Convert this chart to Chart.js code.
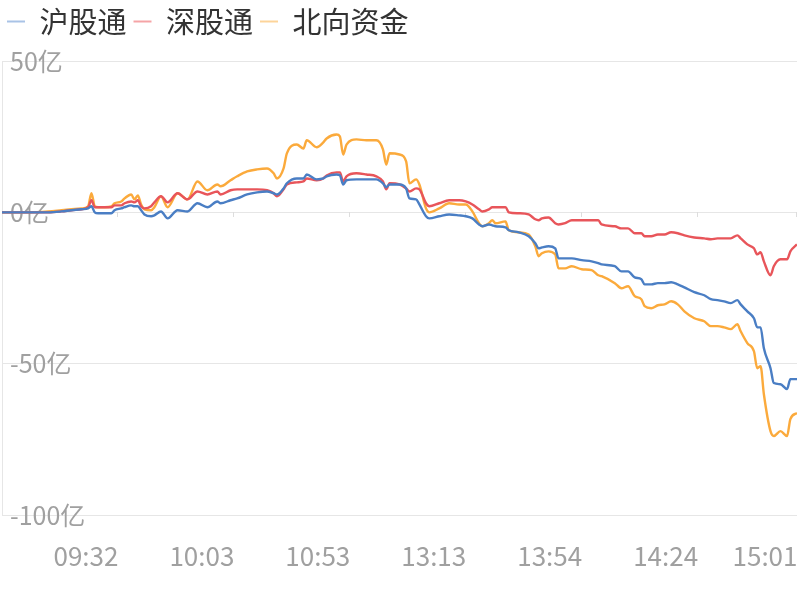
<!DOCTYPE html>
<html>
<head>
<meta charset="utf-8">
<script src="https://cdn.jsdelivr.net/npm/chart.js@4/dist/chart.umd.min.js"></script>
<style>
  html, body { margin: 0; padding: 0; background: #fff; }
  #wrap { width: 800px; height: 600px; }
</style>
</head>
<body>
<div id="wrap"><canvas id="flow-chart"></canvas></div>
<script>
// Trading minutes since 09:30 (lunch break removed, 0..240)
const minutes = [
  0, 8, 14, 18, 21, 24, 26, 27, 28, 29,
  31, 33, 34, 36, 37, 39, 40, 41, 42, 43,
  45, 46, 48, 50, 53, 56, 59, 62, 65, 66,
  69, 71, 74, 77, 80, 82, 83, 85, 86, 89,
  91, 92, 95, 97, 98, 101, 102, 103, 104, 107,
  110, 113, 115, 116, 117, 120, 122, 123, 125, 126,
  128, 129, 132, 135, 138, 140, 142, 144, 145, 147,
  148, 149, 152, 153, 156, 159, 161, 162, 163, 165,
  167, 168, 170, 172, 175, 178, 180, 181, 185, 187,
  189, 191, 193, 194, 196, 198, 200, 202, 204, 206,
  209, 212, 214, 216, 218, 220, 222, 223, 225, 227,
  228, 229, 230, 232, 233, 235, 237, 238, 240
];

// Net inflow, 亿
const shValues = [
  0, 0, 0, 0.3, 0.7, 1.0, 1.3, 2.0, 0, -0.3,
  -0.3, -0.3, 0.7, 1.3, 1.7, 2.3, 2.0, 2.0, 0.7, -0.7,
  -1.3, -1.0, 0.3, -2.0, 0.7, 0.3, 3.0, 1.7, 3.6, 3.0,
  4.0, 4.6, 5.9, 6.6, 6.9, 6.3, 5.9, 7.9, 9.6, 11.2,
  11.2, 12.5, 10.9, 11.2, 11.9, 12.5, 12.2, 9.2, 10.6, 10.9,
  10.9, 10.9, 9.6, 8.3, 9.2, 9.2, 7.9, 4.6, 4.3, 2.6,
  -1.3, -2.0, -1.3, -0.7, -1.0, -1.3, -2.0, -4.0, -4.6, -4.0,
  -4.3, -4.6, -5.0, -5.9, -6.6, -7.9, -10.2, -11.9, -11.6, -11.2,
  -11.9, -15.2, -15.2, -15.2, -15.8, -16.2, -16.8, -17.2, -17.8, -19.5,
  -19.5, -21.5, -22.1, -23.8, -23.8, -23.4, -23.4, -23.1, -23.8, -24.8,
  -26.4, -27.4, -28.7, -29.0, -29.4, -30.0, -29.0, -30.4, -32.7, -35.0,
  -38.0, -38.0, -44.9, -51.5, -56.4, -56.8, -58.4, -55.1, -55.1
];

const szValues = [
  0, 0, 0, 0.3, 0.7, 1.0, 1.7, 4.0, 1.7, 1.7,
  1.7, 1.7, 2.3, 2.3, 3.0, 3.6, 3.3, 4.0, 2.0, 1.3,
  2.0, 3.3, 5.3, 3.3, 6.3, 4.3, 6.9, 5.9, 6.9, 5.9,
  7.3, 7.6, 7.6, 7.6, 7.3, 6.3, 5.3, 7.6, 9.2, 9.9,
  10.2, 11.2, 10.6, 11.2, 12.2, 13.2, 13.2, 10.2, 11.9, 12.9,
  12.5, 11.9, 10.2, 7.6, 9.6, 9.2, 7.9, 6.9, 7.9, 7.6,
  3.0, 2.0, 3.0, 4.0, 4.0, 3.6, 2.6, 1.0, 0.3, 1.0,
  1.7, 1.7, 1.7, 0, -0.3, -0.7, -2.3, -2.6, -2.0, -1.7,
  -3.6, -4.0, -3.6, -2.6, -2.6, -2.6, -2.6, -4.0, -4.6, -5.3,
  -5.3, -6.9, -6.9, -7.9, -7.9, -7.3, -7.3, -6.6, -6.9, -7.6,
  -8.3, -8.6, -8.9, -8.6, -8.6, -8.6, -7.6, -8.6, -10.6, -11.9,
  -13.9, -13.2, -16.2, -20.8, -17.8, -15.5, -15.5, -12.9, -10.6
];

const northValues = [
  0, 0, 0.3, 0.7, 1.0, 1.3, 2.0, 6.3, 2.0, 1.7,
  1.7, 2.0, 3.0, 3.6, 4.6, 5.9, 4.3, 5.6, 2.6, 1.0,
  0.7, 1.7, 5.3, 1.7, 6.3, 4.3, 10.2, 7.3, 9.2, 8.6,
  10.6, 11.9, 13.5, 14.2, 14.5, 12.9, 11.2, 14.5, 19.5, 22.4,
  21.1, 23.8, 21.5, 23.1, 24.4, 25.7, 25.1, 19.1, 22.4, 24.1,
  23.8, 23.8, 20.8, 15.8, 19.5, 19.1, 16.8, 9.6, 10.9, 9.2,
  1.3, 0, 1.3, 3.0, 2.6, 2.6, 0.3, -3.6, -4.6, -3.6,
  -2.6, -3.6, -3.0, -5.9, -6.6, -7.3, -11.2, -14.5, -13.5, -12.9,
  -13.9, -18.5, -18.5, -17.8, -18.8, -19.1, -20.8, -21.1, -23.4, -25.1,
  -24.4, -27.7, -28.7, -31.0, -31.7, -30.7, -30.4, -29.4, -30.4, -32.7,
  -35.0, -36.0, -37.6, -37.6, -38.0, -38.6, -37.0, -39.3, -43.2, -45.9,
  -51.5, -50.8, -60.1, -72.3, -73.9, -72.3, -73.9, -68.3, -66.3
];

const seriesNames = ['沪股通', '深股通', '北向资金'];

// x axis labels and where they sit
const tickMinutes = [35, 70, 105, 140, 175, 210, 240];
const tickLabels = ['09:32', '10:03', '10:53', '13:13', '13:54', '14:24', '15:01'];

const lineColors = ['#4a7ec4', '#e8555a', '#fbaa3c'];
const legendColors = ['#a9c3e6', '#f5a4a6', '#fdd49a'];
const cjkFont = '"Noto Sans CJK SC", "Noto Sans", sans-serif';

const toPoints = values => values.map((v, i) => ({ x: minutes[i], y: v }));

// small tick marks hanging off the zero line
const zeroTicks = {
  id: 'zeroTicks',
  beforeDatasetsDraw(chart) {
    const { ctx, scales: { x, y } } = chart;
    const y0 = Math.round(y.getPixelForValue(0));
    ctx.save();
    ctx.strokeStyle = '#dddddd';
    ctx.lineWidth = 1;
    x.ticks.forEach(t => {
      const px = Math.round(x.getPixelForValue(t.value)) - 0.5;
      ctx.beginPath();
      ctx.moveTo(px, y0);
      ctx.lineTo(px, y0 + 5);
      ctx.stroke();
    });
    ctx.restore();
  }
};

// keep the legend at the very top and reserve room down to the plot
const legendHeight = {
  id: 'legendHeight',
  afterInit(chart) {
    const legend = chart.legend;
    if (!legend) return;
    const fit = legend.fit;
    legend.fit = function () {
      fit.call(this);
      this.height = 61;
    };
  }
};

const datasets = [shValues, szValues, northValues].map((values, i) => ({
  label: seriesNames[i],
  data: toPoints(values),
  borderColor: lineColors[i],
  backgroundColor: lineColors[i],
  borderWidth: 2.4,
  pointRadius: 0,
  pointHoverRadius: 0,
  tension: 0.4,
  cubicInterpolationMode: 'monotone'
}));

new Chart(document.getElementById('flow-chart'), {
  type: 'line',
  data: { datasets },
  options: {
    responsive: true,
    maintainAspectRatio: false,
    animation: false,
    layout: { padding: { left: 0, right: 3, top: 0, bottom: 0 } },
    plugins: {
      tooltip: { enabled: false },
      legend: {
        position: 'top',
        align: 'start',
        labels: {
          font: { family: cjkFont, size: 29 },
          color: '#333',
          boxWidth: 18,
          boxHeight: 2,
          padding: 7,
          generateLabels: chart => chart.data.datasets.map((ds, i) => ({
            text: ds.label,
            fillStyle: legendColors[i],
            strokeStyle: legendColors[i],
            lineWidth: 0,
            fontColor: '#333',
            hidden: false,
            datasetIndex: i
          }))
        }
      }
    },
    scales: {
      x: {
        type: 'linear',
        min: 0,
        max: 240,
        grid: { display: false, drawTicks: false, tickLength: 0 },
        border: { display: false },
        afterBuildTicks: s => { s.ticks = tickMinutes.map(v => ({ value: v })); },
        afterFit: s => { s.paddingLeft = 0; s.paddingRight = 0; s.height = 85; },
        ticks: {
          autoSkip: false,
          maxRotation: 0,
          padding: 26,
          labelOffset: -32,
          color: '#a0a0a0',
          font: { family: cjkFont, size: 26 },
          callback: v => tickLabels[tickMinutes.indexOf(v)]
        }
      },
      y: {
        min: -100,
        max: 50,
        grid: { color: '#e6e6e6', drawTicks: false, tickLength: 0 },
        border: { display: true, color: '#e6e6e6' },
        afterFit: s => { s.width = 2; s.paddingTop = 0; s.paddingBottom = 0; },
        ticks: {
          stepSize: 50,
          mirror: true,
          padding: 8,
          color: '#a0a0a0',
          font: { family: cjkFont, size: 25 },
          callback: v => v + '亿'
        }
      }
    }
  },
  plugins: [zeroTicks, legendHeight]
});
</script>
</body>
</html>
